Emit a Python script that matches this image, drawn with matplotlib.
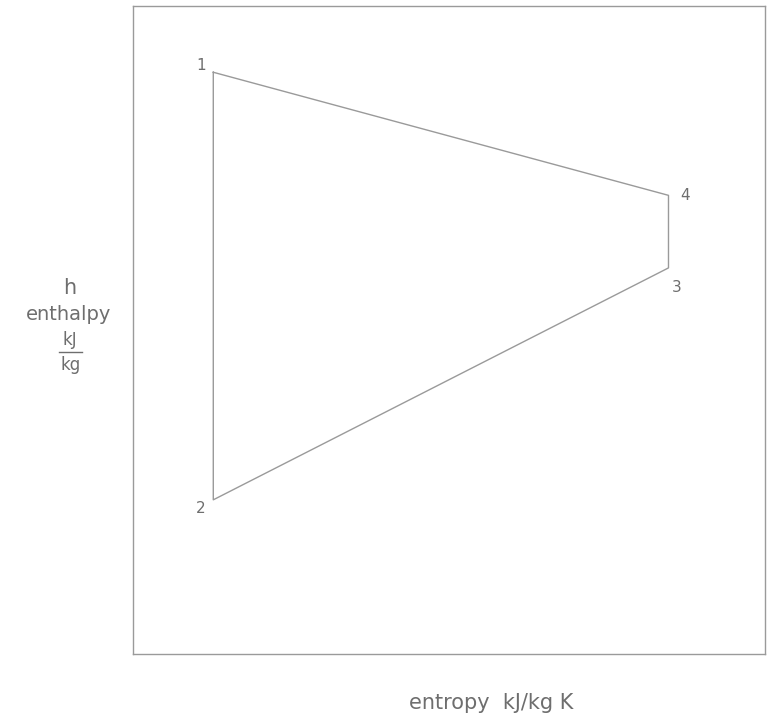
import matplotlib
matplotlib.use("Agg")
import matplotlib.pyplot as plt

# h-s diagram, state points 1-2-3-4 (arbitrary units)
states = ["1", "2", "3", "4"]
entropy = [1.27, 1.27, 8.47, 8.47]
enthalpy = [8.98, 2.38, 5.96, 7.08]

line_col = "#9a9a9a"
text_col = "#6e6e6e"

fig = plt.figure(figsize=(7.71, 7.19), dpi=100)
ax = fig.add_axes([0.1725, 0.0904, 0.820, 0.901])
ax.set_xlim(0, 10)
ax.set_ylim(0, 10)
ax.set_xticks([])
ax.set_yticks([])
for sp in ax.spines.values():
    sp.set_color(line_col)
    sp.set_linewidth(1.0)

# closed cycle 1 -> 2 -> 3 -> 4 -> 1
xs = entropy + [entropy[0]]
ys = enthalpy + [enthalpy[0]]
ax.plot(xs, ys, color=line_col, lw=1.0)

offsets = {"1": (-9, 5), "2": (-9, -6), "3": (6, -14), "4": (12, 0)}
for name, x, y in zip(states, entropy, enthalpy):
    dx, dy = offsets[name]
    ax.annotate(name, (x, y), xytext=(dx, dy), textcoords="offset points",
                ha="center", va="center", color=text_col, fontsize=11)

# axis labels
fig.text(0.637, 0.022, "entropy  kJ/kg K", ha="center", va="center",
         color=text_col, fontsize=15)
fig.text(0.091, 0.600, "h", ha="center", va="center", color=text_col, fontsize=15)
fig.text(0.089, 0.562, "enthalpy", ha="center", va="center", color=text_col, fontsize=14)
fig.text(0.091, 0.527, "kJ", ha="center", va="center", color=text_col, fontsize=12)
fig.add_artist(plt.Line2D([0.077, 0.106], [0.510, 0.510], color=text_col, lw=1.0))
fig.text(0.091, 0.492, "kg", ha="center", va="center", color=text_col, fontsize=12)

fig.savefig("out.png", dpi=100, facecolor="white")
